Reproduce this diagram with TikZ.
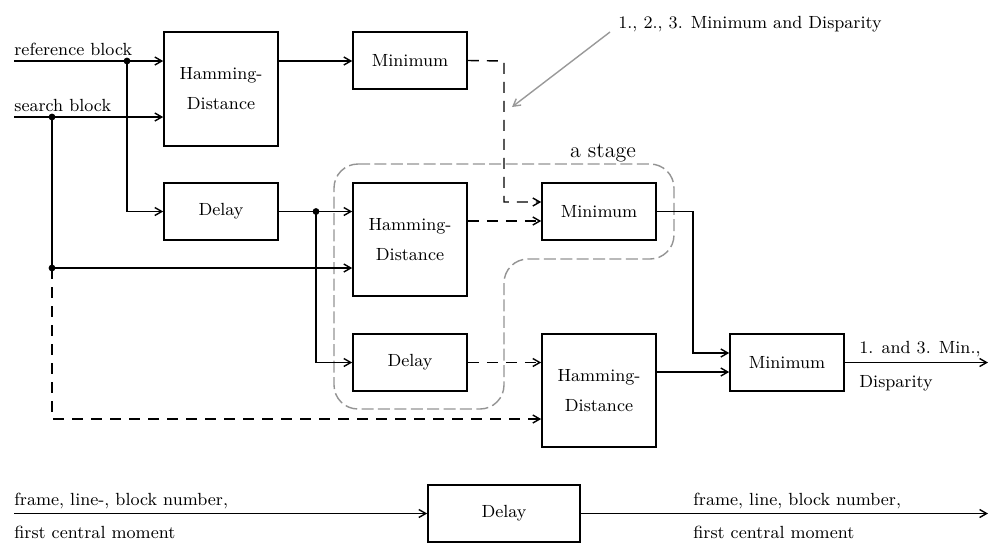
\documentclass[tikz,border=0pt]{standalone}
\usepackage{tikz}
\usetikzlibrary{arrows.meta}

\begin{document}
\begin{tikzpicture}[x=0.5pt, y=-0.5pt, line cap=butt, line join=miter, >={Straight Barb[length=3.5pt,width=4pt]},
		font=\fontsize{8.8}{15}\selectfont,
		blk/.style={draw, line width=0.8pt, minimum width=57pt, minimum height=28.5pt, align=center, inner sep=1pt},
		bigblk/.style={blk, minimum height=57pt},
		wire/.style={line width=0.7pt},
		dwire/.style={wire, dash pattern=on 5.5pt off 4pt},
		txt/.style={inner sep=0pt, anchor=base west}]
				\useasboundingbox (0,0) rectangle (989,543);
				\draw[gray!85, line width=0.7pt, dash pattern=on 6pt off 2.2pt, rounded corners=12pt] (334,164) -- (674,164) -- (674,259) -- (504,259) -- (504,409) -- (334,409) -- cycle;
				\node[font=\fontsize{11}{13}\selectfont, anchor=base] (stage) at (603,157) {a stage};
				\node[bigblk] (hdA) at (221,89) {Hamming-\\Distance};
				\node[blk] (minA) at (410,60.5) {Minimum};
				\node[blk] (delA) at (221,211.5) {Delay};
				\node[bigblk, minimum height=56.5pt] (hdB) at (410,239.5) {Hamming-\\Distance};
				\node[blk] (minB) at (599,211.5) {Minimum};
				\node[blk] (delB) at (410,362.5) {Delay};
				\node[bigblk, minimum height=56.5pt] (hdC) at (599,390.5) {Hamming-\\Distance};
				\node[blk] (minC) at (787,362.5) {Minimum};
				\node[blk, minimum width=76pt] (delD) at (504,513.5) {Delay};
				\coordinate (refIn) at (14,61);
				\coordinate (srchIn) at (14,117);
				\coordinate (jRef) at (127,61);
				\coordinate (jSrch) at (52,117);
				\coordinate (jLow) at (52,268);
				\coordinate (jDel) at (316,211.5);
				\coordinate (cA) at (504,61);
				\coordinate (cB) at (693,211.5);
				\coordinate (outC) at (988,362.5);
				\coordinate (inD) at (14,513.5);
				\coordinate (outD) at (988,513.5);
				\coordinate (noteTip) at (512,107);
				\node[txt] (refLbl) at (14,55) {reference block};
				\node[txt] (srchLbl) at (14,111) {search block};
				\draw[wire, ->] (refIn) -- (hdA.west |- refIn);
				\draw[wire, ->] (srchIn) -- (hdA.west |- srchIn);
				\draw[wire, ->] (jRef) |- (delA.west);
				\draw[wire, ->] (jSrch) -- (jLow) -- (hdB.west |- jLow);
				\draw[dwire, ->] (jLow) |- (hdC.west |- 0,419);
				\draw[wire, ->] (hdA.east |- refIn) -- (minA.west |- refIn);
				\draw[dwire, ->] (minA.east) -- (cA) -- (cA |- 0,202) -- (minB.west |- 0,202);
				\draw[wire, ->] (delA.east) -- (hdB.west |- delA.east);
				\draw[wire, ->] (jDel) |- (delB.west);
				\draw[dwire, ->] (hdB.east |- 0,221) -- (minB.west |- 0,221);
				\draw[wire, ->] (minB.east) -- (cB) |- (minC.west |- 0,353);
				\draw[dwire, ->] (delB.east) -- (hdC.west |- delB.east);
				\draw[wire, ->] (hdC.east |- 0,372) -- (minC.west |- 0,372);
				\draw[wire, ->] (minC.east) -- (outC);
				\fill (jRef) circle (1.7pt);
				\fill (jSrch) circle (1.7pt);
				\fill (jLow) circle (1.7pt);
				\fill (jDel) circle (1.7pt);
				\node[txt] (outLblA) at (859,353) {1. and 3. Min.,};
				\node[txt] (outLblB) at (859,387) {Disparity};
				\node[txt] (note) at (618,28) {1., 2., 3. Minimum and Disparity};
				\draw[gray!80, line width=0.7pt, ->] (610,32) -- (noteTip);
				\draw[wire, ->] (inD) -- (delD.west);
				\draw[wire, ->] (delD.east) -- (outD);
				\node[txt] (inLblA) at (14,505) {frame, line-, block number,};
				\node[txt] (inLblB) at (14,538) {first central moment};
				\node[txt] (outLblC) at (693,505) {frame, line, block number,};
				\node[txt] (outLblD) at (693,538) {first central moment};
			\end{tikzpicture}
\end{document}
